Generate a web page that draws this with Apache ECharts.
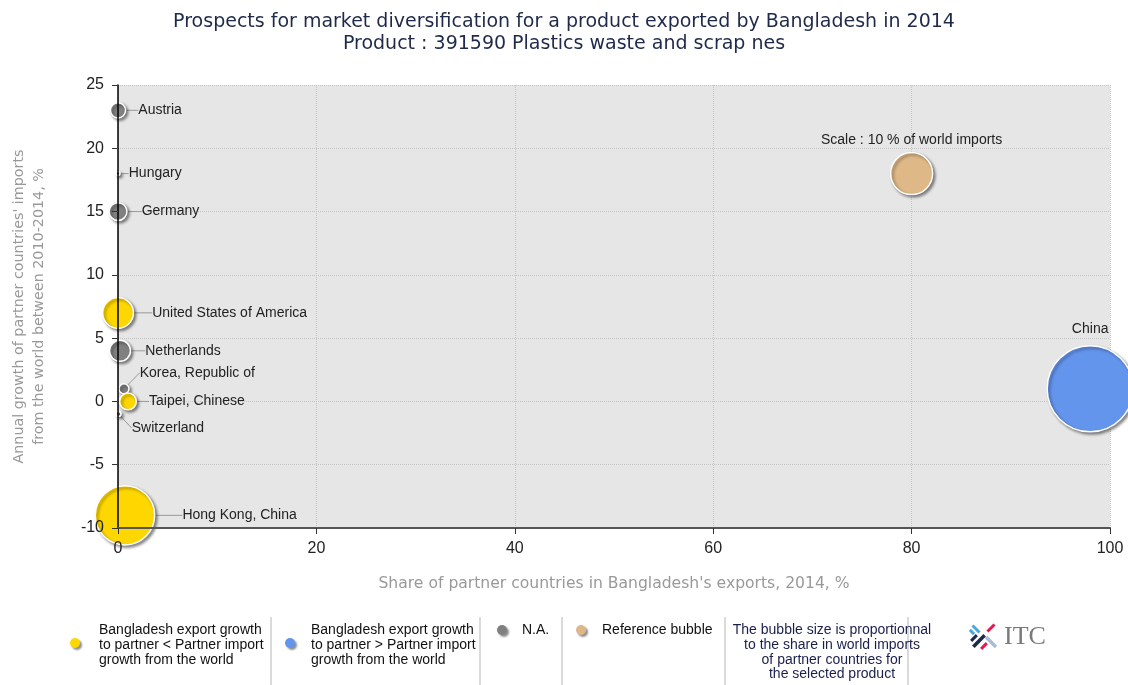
<!DOCTYPE html>
<html><head><meta charset="utf-8">
<script src="https://cdn.jsdelivr.net/npm/echarts@6/dist/echarts.min.js"></script>
<style>html,body{margin:0;padding:0;background:#fff;}#c{width:1128px;height:685px;}</style>
</head><body><div id="c"></div>
<script>
// ---- data ----
const countries = ['Austria','Hungary','Germany','United States of America','Netherlands','Korea, Republic of','Taipei, Chinese','Switzerland','Hong Kong, China','China'];
const exportShare = [0, 0, 0, 0, 0.2, 0.6, 1.0, 0.05, 0.7, 98];          // x, %
const importGrowth = [23, 18, 15, 7, 4, 1, 0, -1, -9, 1];                 // y, %
const worldImportShare = [1.3, 0.09, 1.8, 5.4, 2.5, 0.57, 1.6, 0.14, 20, 42]; // bubble size, %
const groups = ['na','na','na','lower','na','na','lower','na','lower','higher'];
const referenceName = 'Scale : 10 % of world imports';
const referenceX = [80];
const referenceY = [18];
const referenceShare = [10];
const xTicks = [0, 20, 40, 60, 80, 100];
const yTicks = [-10, -5, 0, 5, 10, 15, 20, 25];

// ---- styles ----
const groupColors = {lower:'#FFD700', higher:'#6495ED', na:'#808080', ref:'#DEB887'};
const labelShift = {
  'Austria':[7,0], 'Hungary':[3,0], 'Germany':[9,0], 'United States of America':[13,0],
  'Netherlands':[9,0], 'Korea, Republic of':[5,-16], 'Taipei, Chinese':[7,0],
  'Switzerland':[5,14], 'Hong Kong, China':[22,0]
};
const refDiameter = 42; // px for 10 %
const bubbleSize = v => refDiameter * Math.sqrt(v[2] / 10);
const bubbleStyle = {borderColor:'#fff', borderWidth:1.5, shadowBlur:3, shadowOffsetX:2, shadowOffsetY:2, shadowColor:'rgba(0,0,0,0.45)', opacity:1};
const labelFont = {fontFamily:'Liberation Sans, Arial, sans-serif', fontSize:14, color:'#222'};

const countryData = countries.map((n, i) => {
  const item = {
    name: n,
    value: [exportShare[i], importGrowth[i], worldImportShare[i]],
    itemStyle: Object.assign({color: groupColors[groups[i]]}, bubbleStyle)
  };
  if (groups[i] === 'higher') {
    item.label = {position:'top', distance:9};
    item.labelLine = {show:false};
  }
  return item;
});
const refData = referenceX.map((x, i) => ({
  name: referenceName,
  value: [x, referenceY[i], referenceShare[i]],
  itemStyle: Object.assign({color: groupColors.ref}, bubbleStyle)
}));

const chart = echarts.init(document.getElementById('c'));
const legendFont = '14px "Liberation Sans", Arial, sans-serif';
const dotStyle = c => ({fill:c, shadowBlur:2, shadowOffsetX:2, shadowOffsetY:2, shadowColor:'rgba(0,0,0,0.45)'});
const sepX = [271, 480, 562, 725, 908];
const xMin = xTicks[0], xMax = xTicks[xTicks.length-1], xStep = xTicks[1]-xTicks[0];
const yMin = yTicks[0], yMax = yTicks[yTicks.length-1], yStep = yTicks[1]-yTicks[0];

chart.setOption({
  animation: false,
  backgroundColor: '#fff',
  title: {
    text: 'Prospects for market diversification for a product exported by Bangladesh in 2014\nProduct : 391590 Plastics waste and scrap nes',
    left: 'center', top: 6,
    textStyle: {fontFamily:'DejaVu Sans, Verdana, sans-serif', fontSize:19, fontWeight:'normal', color:'#1f2a4a', lineHeight:22}
  },
  grid: {left:118, right:18, top:85, bottom:157, show:true, backgroundColor:'#e6e6e6', borderWidth:0, z:0},
  xAxis: [
    {type:'value', min:xMin, max:xMax, interval:xStep, z:1,
      axisLine:{show:false}, axisTick:{show:false}, axisLabel:{show:false},
      splitLine:{show:true, lineStyle:{color:'#c4c4c4', type:'dotted', width:1}}},
    {type:'value', min:xMin, max:xMax, interval:xStep, z:10, position:'bottom',
      axisLine:{show:true, onZero:false, lineStyle:{color:'#555', width:2}},
      axisTick:{show:true, length:6, lineStyle:{color:'#333'}},
      axisLabel:{fontFamily:'Liberation Sans, Arial, sans-serif', fontSize:16, color:'#222', margin:13},
      splitLine:{show:false},
      name:"Share of partner countries in Bangladesh's exports, 2014, %",
      nameLocation:'middle', nameGap:48,
      nameTextStyle:{fontFamily:'DejaVu Sans, Verdana, sans-serif', fontSize:15.6, color:'#999'}}
  ],
  yAxis: [
    {type:'value', min:yMin, max:yMax, interval:yStep, z:1,
      axisLine:{show:false}, axisTick:{show:false}, axisLabel:{show:false},
      splitLine:{show:true, lineStyle:{color:'#c4c4c4', type:'dotted', width:1}}},
    {type:'value', min:yMin, max:yMax, interval:yStep, z:10, position:'left',
      axisLine:{show:true, onZero:false, lineStyle:{color:'#000', width:1.5}},
      axisTick:{show:true, length:6, lineStyle:{color:'#333'}},
      axisLabel:{fontFamily:'Liberation Sans, Arial, sans-serif', fontSize:16, color:'#222', margin:14},
      splitLine:{show:false},
      name:"Annual growth of partner countries' imports\nfrom the world between 2010-2014, %",
      nameLocation:'middle', nameGap:69, nameRotate:90,
      nameTextStyle:{fontFamily:'DejaVu Sans, Verdana, sans-serif', fontSize:14.3, color:'#999', lineHeight:20}}
  ],
  series: [
    {
      type:'scatter', name:'countries', xAxisIndex:0, yAxisIndex:0, clip:false, z:2,
      symbolSize: bubbleSize,
      data: countryData,
      label: Object.assign({show:true, position:'right', distance:5, formatter:'{b}'}, labelFont),
      labelLine: {show:true, lineStyle:{color:'#999', width:1}},
      labelLayout: p => {
        const s = labelShift[countries[p.dataIndex]];
        return s ? {dx:s[0], dy:s[1]} : {};
      },
      emphasis:{disabled:true}
    },
    {
      type:'scatter', name:'reference', xAxisIndex:0, yAxisIndex:0, clip:false, z:2,
      symbolSize: bubbleSize,
      data: refData,
      label: Object.assign({show:true, position:'top', distance:5, formatter:'{b}'}, labelFont),
      emphasis:{disabled:true}
    }
  ],
  graphic: [
    ...sepX.map(x => ({type:'line', shape:{x1:x, y1:617, x2:x, y2:685}, style:{stroke:'#b5b5b5', lineWidth:1}, silent:true})),
    {type:'circle', shape:{cx:75, cy:643, r:5}, style:dotStyle(groupColors.lower)},
    {type:'text', x:99, y:623, style:{text:'Bangladesh export growth\nto partner < Partner import\ngrowth from the world', font:legendFont, fill:'#111', lineHeight:15}},
    {type:'circle', shape:{cx:290, cy:643, r:5}, style:dotStyle(groupColors.higher)},
    {type:'text', x:311, y:623, style:{text:'Bangladesh export growth\nto partner > Partner import\ngrowth from the world', font:legendFont, fill:'#111', lineHeight:15}},
    {type:'circle', shape:{cx:502, cy:630, r:5}, style:dotStyle(groupColors.na)},
    {type:'text', x:522, y:623, style:{text:'N.A.', font:legendFont, fill:'#111', lineHeight:15}},
    {type:'circle', shape:{cx:581, cy:630, r:5}, style:dotStyle(groupColors.ref)},
    {type:'text', x:602, y:623, style:{text:'Reference bubble', font:legendFont, fill:'#111', lineHeight:15}},
    {type:'text', x:832, y:623, style:{text:'The bubble size is proportionnal\nto the share in world imports\nof partner countries for\nthe selected product', font:legendFont, fill:'#1a1f4a', lineHeight:14.7, textAlign:'center'}},
    {type:'group', x:984, y:637, children:[
      {type:'rect', x:-8, y:-8, rotation:-Math.PI/4, shape:{x:-5, y:-1.5, width:10, height:3}, style:{fill:'#4aa8dd'}},
      {type:'rect', x:-12, y:-5, rotation:-Math.PI/4, shape:{x:-3, y:-1.5, width:6, height:3}, style:{fill:'#4aa8dd'}},
      {type:'rect', x:7, y:-9, rotation:Math.PI/4, shape:{x:-5, y:-1.5, width:10, height:3}, style:{fill:'#e3194f'}},
      {type:'rect', x:-5, y:4, rotation:Math.PI/4, shape:{x:-8, y:-1.8, width:16, height:3.6}, style:{fill:'#1c2b4b'}},
      {type:'rect', x:-10, y:1, rotation:Math.PI/4, shape:{x:-4, y:-1.5, width:8, height:3}, style:{fill:'#1c2b4b'}},
      {type:'rect', x:7, y:5, rotation:-Math.PI/4, shape:{x:-7, y:-1.8, width:14, height:3.6}, style:{fill:'#a9bdd3'}},
      {type:'rect', x:0, y:9, rotation:Math.PI/4, shape:{x:-4, y:-1.5, width:8, height:3}, style:{fill:'#e3194f'}}
    ]},
    {type:'text', x:1004, y:637, style:{text:'ITC', font:'26px "Liberation Serif", "DejaVu Serif", serif', fill:'#7a7a7a', textVerticalAlign:'middle'}}
  ]
});
</script></body></html>
